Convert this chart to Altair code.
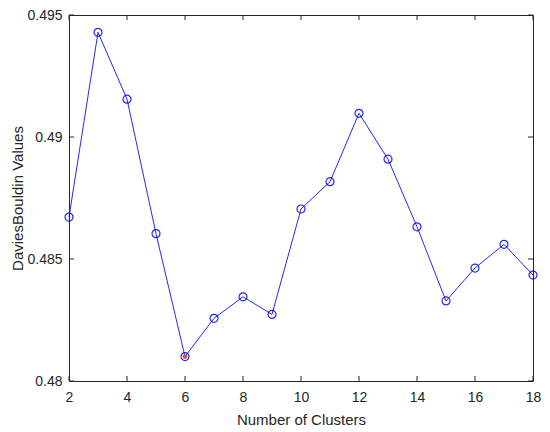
import altair as alt
import pandas as pd

clusters = [2, 3, 4, 5, 6, 7, 8, 9, 10, 11, 12, 13, 14, 15, 16, 17, 18]
db_values = [0.48672, 0.49429, 0.49155, 0.48604, 0.48100, 0.48257, 0.48345,
             0.48273, 0.48705, 0.48817, 0.49097, 0.48909, 0.48632, 0.48328,
             0.48463, 0.48560, 0.48434]
best_k = [6]
x_ticks = [2, 4, 6, 8, 10, 12, 14, 16, 18]
y_ticks = [0.48, 0.485, 0.49, 0.495]

W, H = 464, 366
AX = "#262626"
FONT = "Liberation Sans"

df = pd.DataFrame({"k": clusters, "db": db_values})
best = df[df["k"].isin(best_k)]

xs = alt.Scale(domain=[2, 18], nice=False, zero=False)
ys = alt.Scale(domain=[0.48, 0.495], nice=False, zero=False)

x_axis = alt.Axis(values=x_ticks, title="Number of Clusters", grid=False,
                  ticks=False, domain=False, labelFontSize=14, labelColor=AX,
                  labelPadding=9, titleFontSize=15, titleColor=AX,
                  titleFontWeight="normal", titlePadding=8, labelFont=FONT,
                  titleFont=FONT, labelFlush=False, labelOverlap=False)
y_axis = alt.Axis(values=y_ticks, title="DaviesBouldin Values", grid=False,
                  ticks=False, domain=False, labelFontSize=14, labelColor=AX,
                  labelPadding=7, titleFontSize=15, titleColor=AX,
                  titleFontWeight="normal", titlePadding=1, format=".3~f",
                  labelFont=FONT, titleFont=FONT, labelFlush=False,
                  labelOverlap=False)

line = alt.Chart(df).mark_line(color="#0000ff", strokeWidth=1, opacity=0.85).encode(
    x=alt.X("k:Q", scale=xs, axis=x_axis),
    y=alt.Y("db:Q", scale=ys, axis=y_axis),
)
pts = alt.Chart(df).mark_point(shape="circle", filled=False, color="#0000ff",
                               size=64, strokeWidth=1.2, opacity=0.85).encode(
    x=alt.X("k:Q", scale=xs), y=alt.Y("db:Q", scale=ys)
)
best_pt = alt.Chart(best).mark_point(shape="circle", filled=True, color="#e8501c",
                                     size=22, opacity=1).encode(
    x=alt.X("k:Q", scale=xs), y=alt.Y("db:Q", scale=ys)
)

xt = pd.DataFrame({"t": x_ticks})
yt = pd.DataFrame({"t": y_ticks})
tick_len = 5
bx = alt.Chart(xt).mark_rule(color=AX, strokeWidth=1).encode(
    x=alt.X("t:Q", scale=xs), y=alt.value(H), y2=alt.value(H - tick_len))
tx = alt.Chart(xt).mark_rule(color=AX, strokeWidth=1).encode(
    x=alt.X("t:Q", scale=xs), y=alt.value(0), y2=alt.value(tick_len))
ly = alt.Chart(yt).mark_rule(color=AX, strokeWidth=1).encode(
    y=alt.Y("t:Q", scale=ys), x=alt.value(0), x2=alt.value(tick_len))
ry = alt.Chart(yt).mark_rule(color=AX, strokeWidth=1).encode(
    y=alt.Y("t:Q", scale=ys), x=alt.value(W), x2=alt.value(W - tick_len))

chart = alt.layer(bx, tx, ly, ry, line, pts, best_pt).properties(
    width=W, height=H,
    autosize=alt.AutoSizeParams(type="none"),
    padding={"left": 61, "top": 7, "right": 9, "bottom": 45},
    background="white",
).configure_view(stroke=AX, strokeWidth=1)

chart.save("out.html", embed_options={"renderer": "svg", "actions": False})
